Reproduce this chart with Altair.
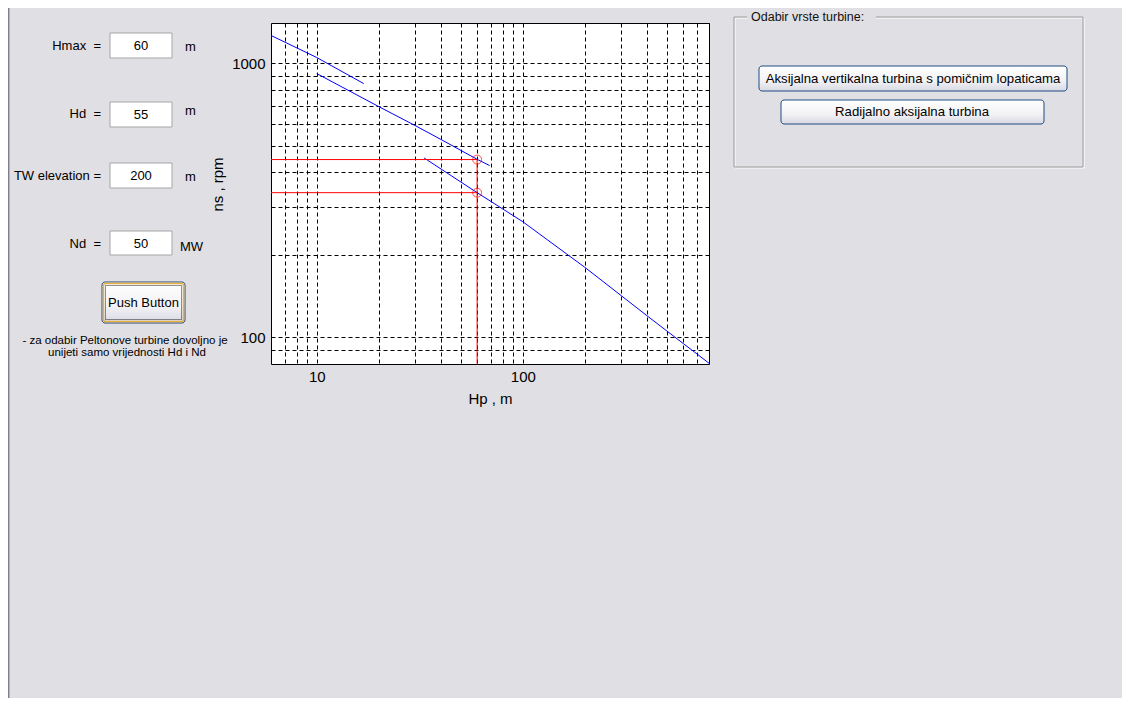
import altair as alt
import pandas as pd

# ---------------- data ----------------
line1_H = [6, 10, 16.9]
line1_ns = [1261, 1048, 842]
line2_H = [10, 20, 30, 40, 60, 69]
line2_ns = [916, 694, 592, 527, 446, 423]
line3_H = [33.2, 60, 100, 200, 300, 400, 500, 600, 700, 800]
line3_ns = [451, 337, 264, 180, 142, 120, 105.5, 95, 87, 80.5]

point_H = [60, 60]
point_ns = [445, 337]

# red guide segments: (H start, ns start) -> (H end, ns end)
seg_H1 = [6, 6, 60]
seg_ns1 = [445, 337, 445]
seg_H2 = [60, 60, 60]
seg_ns2 = [445, 337, 80]

x_grid = [7, 8, 9, 10, 20, 30, 40, 50, 60, 70, 80, 90, 100, 200, 300, 400, 500, 600, 700, 800]
y_grid = [90, 100, 200, 300, 400, 500, 600, 700, 800, 900, 1000]
x_labels = [10, 100]
y_labels = [100, 1000]

# GUI texts
NB = "\u00a0"
field_labels = ["Hmax" + NB * 2 + "=", "Hd" + NB * 2 + "=", "TW elevation =", "Nd" + NB * 2 + "="]
field_values = ["60", "55", "200", "50"]
field_units = ["m", "m", "m", "MW"]
push_label = "Push Button"
note_lines = ["- za odabir Peltonove turbine dovoljno je", "unijeti samo vrijednosti Hd i Nd"]
group_title = "Odabir vrste turbine:"
turbine_buttons = ["Aksijalna vertikalna turbina s pomičnim lopaticama", "Radijalno aksijalna turbina"]

# ---------------- tables ----------------
rows = []
for name, hs, ns in [("a", line1_H, line1_ns), ("b", line2_H, line2_ns), ("c", line3_H, line3_ns)]:
    for i, (h, n) in enumerate(zip(hs, ns)):
        rows.append({"H": h, "ns": n, "series": name, "order": i})
lines_df = pd.DataFrame(rows)
pts_df = pd.DataFrame({"H": point_H, "ns": point_ns})
seg_df = pd.DataFrame({"H": seg_H1, "ns": seg_ns1, "H2": seg_H2, "ns2": seg_ns2})

FONT = "Liberation Sans"
OX, OY = 271, 23  # page position of the plot area
W, H = 438, 341


def px(v):
    return v - OX


def py(v):
    return v - OY


xs = alt.Scale(type="log", domain=[6, 800], nice=False)
ys = alt.Scale(type="log", domain=[80, 1400], nice=False)

x_axis = alt.Axis(
    values=x_grid, format="d",
    labelExpr="indexof(%s, datum.value) >= 0 ? datum.label : ''" % str(x_labels),
    grid=True, gridColor="black", gridDash=[4, 3], gridOpacity=1, gridWidth=1,
    ticks=False, tickSize=0, domain=False, labelOverlap=False, labelFlush=False,
    labelFont=FONT, labelFontSize=15, labelColor="black", labelPadding=5,
    title="Hp , m", titleFont=FONT, titleFontSize=15, titleFontWeight="normal",
    titleColor="black", titleY=34, titleBaseline="middle",
)
y_axis = alt.Axis(
    values=y_grid, format="d",
    labelExpr="indexof(%s, datum.value) >= 0 ? datum.label : ''" % str(y_labels),
    grid=True, gridColor="black", gridDash=[4, 3], gridOpacity=1, gridWidth=1,
    ticks=False, tickSize=0, domain=False, labelOverlap=False, labelFlush=False,
    labelFont=FONT, labelFontSize=15, labelColor="black", labelPadding=6,
    title="ns , rpm", titleFont=FONT, titleFontSize=15, titleFontWeight="normal",
    titleColor="black", titleX=px(217), titleY=py(184), titleBaseline="middle",
    titleAlign="center", titleAngle=270,
)

blue = alt.Chart(lines_df).mark_line(color="#0000ff", strokeWidth=1).encode(
    x=alt.X("H:Q", scale=xs, axis=x_axis),
    y=alt.Y("ns:Q", scale=ys, axis=y_axis),
    detail="series:N",
    order="order:Q",
)
red_seg = alt.Chart(seg_df).mark_rule(color="#ff0000", strokeWidth=1).encode(
    x=alt.X("H:Q", scale=xs), y=alt.Y("ns:Q", scale=ys), x2="H2:Q", y2="ns2:Q"
)
red_pts = alt.Chart(pts_df).mark_point(shape="circle", filled=False, size=80,
                                       color="#ff0000", strokeWidth=1).encode(
    x=alt.X("H:Q", scale=xs), y=alt.Y("ns:Q", scale=ys)
)

layers = []


def box(x1, y1, x2, y2, **kw):
    layers.append(alt.Chart().mark_rect(**kw).encode(
        x=alt.value(px(x1)), x2=alt.value(px(x2)), y=alt.value(py(y1)), y2=alt.value(py(y2))))


def label(x, y, t, size=13, align="left", color="black"):
    layers.append(alt.Chart().mark_text(text=t, font=FONT, fontSize=size, align=align,
                                        baseline="middle", color=color).encode(
        x=alt.value(px(x)), y=alt.value(py(y))))


btn_fill = alt.Gradient(gradient="linear",
                        stops=[alt.GradientStop(color="#ffffff", offset=0),
                               alt.GradientStop(color="#f2f2f5", offset=0.6),
                               alt.GradientStop(color="#d8d8e2", offset=1)],
                        x1=0, x2=0, y1=0, y2=1)

# window left border
box(8, 8, 9, 698, fill="#7e7e90", stroke=None)
box(9, 8, 10, 698, fill="#b4b4c2", stroke=None)

# left panel fields
label_y = [46, 114, 176, 244]
box_y = [(33, 58), (102, 127), (163, 188), (231, 255)]
unit_x = [185, 185, 185, 180]
unit_y = [47, 111, 177, 247]
for i in range(4):
    label(101, label_y[i], field_labels[i], 13, "right")
    box(110, box_y[i][0], 172, box_y[i][1], fill="white", stroke="#a5a5a5", strokeWidth=1)
    label(141, (box_y[i][0] + box_y[i][1]) / 2 + 0.5, field_values[i], 13, "center")
    label(unit_x[i], unit_y[i], field_units[i], 13, "left")

# push button
box(102, 282, 185, 323, fill=btn_fill, stroke="#2a4a78", strokeWidth=1, cornerRadius=3)
box(103.5, 283.5, 183.5, 321.5, fill=None, stroke="#e8b040", strokeWidth=1.5, cornerRadius=2)
box(105.5, 285.5, 181.5, 319.5, fill=None, stroke="#222222", strokeWidth=1, strokeDash=[1, 1])
label(143.5, 303, push_label, 13, "center")

label(125, 341, note_lines[0], 11.5, "center")
label(127, 353, note_lines[1], 11.5, "center")

# right group box
box(735, 18, 1084, 168, fill=None, stroke="#ffffff", strokeWidth=1)
box(734, 17, 1083, 167, fill=None, stroke="#9c9c9c", strokeWidth=1)
box(747, 10, 876, 24, fill="#e0dfe3", stroke=None)
label(751, 17, group_title, 12.5, "left", "#111111")

box(759, 66, 1067, 91, fill=btn_fill, stroke="#1e4c84", strokeWidth=1, cornerRadius=3)
label(913, 79, turbine_buttons[0], 13.2, "center")
box(781, 100, 1044, 124, fill=btn_fill, stroke="#1e4c84", strokeWidth=1, cornerRadius=3)
label(912, 112, turbine_buttons[1], 13.2, "center")

chart = alt.layer(blue, red_seg, red_pts, *layers).properties(
    width=W, height=H,
    autosize=alt.AutoSizeParams(type="none"),
    padding={"left": OX - 8, "top": OY - 8, "right": 1114 - (OX - 8) - W, "bottom": 690 - (OY - 8) - H},
    background="#e0dfe3",
).configure_view(fill="white", stroke="black", strokeWidth=1)

chart.save("out.html", embed_options={"renderer": "svg", "actions": False})
